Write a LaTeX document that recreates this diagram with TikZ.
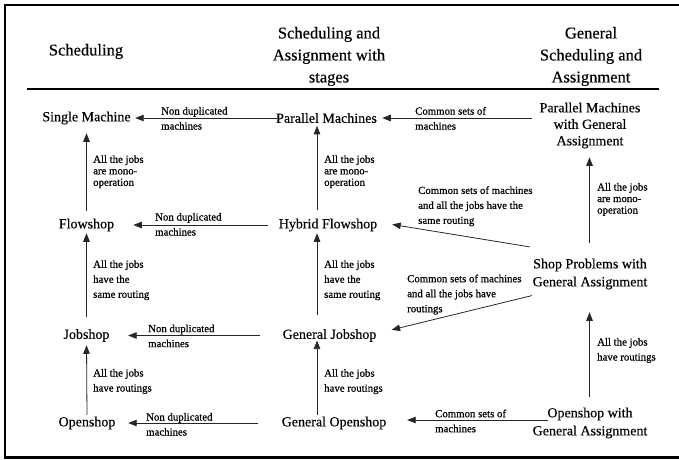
\documentclass[tikz,border=0pt]{standalone}
\usepackage{fontspec}
\setmainfont{Liberation Serif}[FakeBold=0.35]
\newfontfamily\labfont{Liberation Serif}[FakeBold=0.7]
\usetikzlibrary{arrows.meta,calc}
\begin{document}
\begin{tikzpicture}[x=1pt,y=-1pt,
  hd/.style={font=\fontsize{16.5}{22}\selectfont, align=center, inner sep=0pt},
  nd/.style={font=\fontsize{14}{18}\selectfont, align=center, inner sep=0pt},
  lab/.style={font=\labfont\fontsize{10.8}{15}\selectfont, align=left, inner sep=0pt, anchor=north west},
  labt/.style={font=\labfont\fontsize{10.8}{11.5}\selectfont, align=left, inner sep=0pt, anchor=north west},
  arr/.style={draw=black!85, line width=0.8pt, -{Triangle[length=8.5pt,width=6.5pt]}},
  framed/.style={line width=2.5pt},
  rule/.style={line width=1.4pt}]
\useasboundingbox (0,0) rectangle (679,459);
% frame
\coordinate (ftr) at (679,5);
\coordinate (ftl) at (5,5);
\coordinate (fbl) at (5,457.5);
\coordinate (fbr) at (679,457.5);
\draw[framed] (ftr) -- (ftl) -- (fbl) -- (fbr);
% headers
\node[hd] (h1) at (86,51.5) {Scheduling};
\node[hd] (h2) at (329,56.5) {Scheduling and\\Assignment with\\stages};
\node[hd] (h3) at (591,56.5) {General\\Scheduling and\\Assignment};
\coordinate (rl) at (27,89);
\coordinate (rr) at (659,89);
\draw[rule] (rl) -- (rr);
% nodes
\node[nd] (sm) at (86.5,118) {Single Machine};
\node[nd] (pm) at (326.5,118) {Parallel Machines};
\node[nd, font=\fontsize{14}{16.5}\selectfont] (pmg) at (590,125.5) {Parallel Machines\\with General\\Assignment};
\node[nd] (fs) at (86.5,225) {Flowshop};
\node[nd] (hf) at (328,225) {Hybrid Flowshop};
\node[nd] (spg) at (590,274) {Shop Problems with\\General Assignment};
\node[nd] (js) at (86.5,335.5) {Jobshop};
\node[nd] (gj) at (329.5,335.5) {General Jobshop};
\node[nd] (os) at (87,423) {Openshop};
\node[nd] (go) at (334,423) {General Openshop};
\node[nd] (oga) at (590,423) {Openshop with\\General Assignment};
\coordinate (mx) at (317,0);
\coordinate (rx) at (589.5,0);
% horizontal arrows
\draw[arr, shorten <=-1pt, shorten >=4.4pt] (pm.west) -- (sm.east);
\draw[arr, shorten <=11pt, shorten >=19pt] (hf.west) -- (fs.east);
\draw[arr, shorten <=22.6pt, shorten >=18.5pt] (gj.west) -- (js.east);
\draw[arr, shorten <=23.7pt, shorten >=12.6pt] (go.west) -- (os.east);
\draw[arr, shorten <=7.6pt, shorten >=5.2pt] (pm.east -| pmg.west) -- (pm.east);
\draw[arr, shorten <=-15.4pt, shorten >=20.7pt] ($(go.east -| oga.west)+(0,-3)$) -- ($(go.east)+(0,-3)$);
% diagonal arrows
\draw[arr, shorten >=15pt] ($(spg.north west)+(-2.5,-11.5)$) -- ($(hf.east)+(0,-3)$);
\draw[arr, shorten >=15.5pt] ($(spg.south west)+(-0.5,6)$) -- ($(gj.east)+(0,-2)$);
% vertical arrows, left column
\draw[arr, shorten <=7.7pt, shorten >=8.7pt] (fs.north) -- (sm.south);
\draw[arr, shorten <=12.2pt, shorten >=1.7pt] (js.north) -- (fs.south);
\draw[arr, shorten <=1.7pt, shorten >=3.2pt] (os.north) -- (js.south);
% middle column
\draw[arr, shorten <=8.7pt, shorten >=2.7pt] (hf.north -| mx) -- (pm.south -| mx);
\draw[arr, shorten <=14.2pt, shorten >=1.7pt] (gj.north -| mx) -- (hf.south -| mx);
\draw[arr, shorten <=1.7pt, shorten >=-1.5pt] (go.north -| mx) -- (gj.south -| mx);
% right column
\draw[arr, shorten <=15.7pt, shorten >=8.7pt] (spg.north -| rx) -- (pmg.south -| rx);
\draw[arr, shorten <=10.7pt, shorten >=22.7pt] (oga.north -| rx) -- (spg.south -| rx);
% labels
\node[lab] (l1) at (161,106.8) {Non duplicated\\machines};
\node[lab] (l2) at (155,212.8) {Non duplicated\\machines};
\node[lab] (l3) at (148,324.4) {Non duplicated\\machines};
\node[lab] (l4) at (146,412.8) {Non duplicated\\machines};
\node[lab] (l5) at (415,106.8) {Common sets of\\machines};
\node[lab] (l6) at (435,409.4) {Common sets of\\machines};
\node[lab] (l7) at (418,186.1) {Common sets of machines\\and all the jobs have the\\same routing};
\node[lab] (l8) at (407,274.4) {Common sets of machines\\and all the jobs have\\routings};
\node[labt] (v1) at (93,155.1) {All the jobs\\are mono-\\operation};
\node[labt] (m1) at (324,155.1) {All the jobs\\are mono-\\operation};
\node[labt] (r1) at (597,182.8) {All the jobs\\are mono-\\operation};
\node[lab] (v2) at (93,260.1) {All the jobs\\have the\\same routing};
\node[lab] (m2) at (324,260.1) {All the jobs\\have the\\same routing};
\node[lab] (v3) at (93,368.8) {All the jobs\\have routings};
\node[lab] (m3) at (324,369) {All the jobs\\have routings};
\node[lab] (r2) at (597,337.8) {All the jobs\\have routings};
\end{tikzpicture}
\end{document}
